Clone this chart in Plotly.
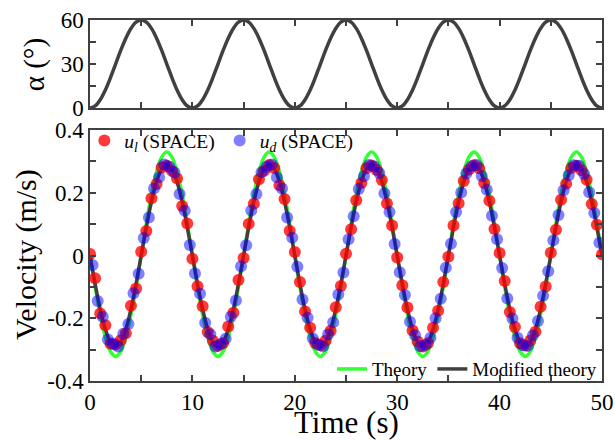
import plotly.graph_objects as go

# time grids (s)
t_line = [i * 0.5 for i in range(101)]
t_red = [i * 0.5 for i in range(101)]
t_blue = [0.25 + i * 0.5 for i in range(100)]

# alpha (deg)
alpha = [
    0, 1.47, 5.73, 12.36, 20.73, 30, 39.27, 47.64, 54.27, 58.53, 60, 58.53, 54.27, 47.64, 39.27, 30, 20.73, 12.36, 5.73, 1.47,
    0, 1.47, 5.73, 12.36, 20.73, 30, 39.27, 47.64, 54.27, 58.53, 60, 58.53, 54.27, 47.64, 39.27, 30, 20.73, 12.36, 5.73, 1.47,
    0, 1.47, 5.73, 12.36, 20.73, 30, 39.27, 47.64, 54.27, 58.53, 60, 58.53, 54.27, 47.64, 39.27, 30, 20.73, 12.36, 5.73, 1.47,
    0, 1.47, 5.73, 12.36, 20.73, 30, 39.27, 47.64, 54.27, 58.53, 60, 58.53, 54.27, 47.64, 39.27, 30, 20.73, 12.36, 5.73, 1.47,
    0, 1.47, 5.73, 12.36, 20.73, 30, 39.27, 47.64, 54.27, 58.53, 60, 58.53, 54.27, 47.64, 39.27, 30, 20.73, 12.36, 5.73, 1.47,
    0,
]

theory = [
    0, -0.100, -0.189, -0.260, -0.306, -0.322, -0.306, -0.260, -0.189, -0.100, 0, 0.102, 0.194, 0.267, 0.314, 0.330, 0.314, 0.267, 0.194, 0.102,
    0, -0.100, -0.189, -0.260, -0.306, -0.322, -0.306, -0.260, -0.189, -0.100, 0, 0.102, 0.194, 0.267, 0.314, 0.330, 0.314, 0.267, 0.194, 0.102,
    0, -0.100, -0.189, -0.260, -0.306, -0.322, -0.306, -0.260, -0.189, -0.100, 0, 0.102, 0.194, 0.267, 0.314, 0.330, 0.314, 0.267, 0.194, 0.102,
    0, -0.100, -0.189, -0.260, -0.306, -0.322, -0.306, -0.260, -0.189, -0.100, 0, 0.102, 0.194, 0.267, 0.314, 0.330, 0.314, 0.267, 0.194, 0.102,
    0, -0.100, -0.189, -0.260, -0.306, -0.322, -0.306, -0.260, -0.189, -0.100, 0, 0.102, 0.194, 0.267, 0.314, 0.330, 0.314, 0.267, 0.194, 0.102,
    0,
]

modified = [
    0, -0.090, -0.171, -0.235, -0.276, -0.290, -0.276, -0.235, -0.171, -0.090, 0, 0.090, 0.171, 0.235, 0.276, 0.290, 0.276, 0.235, 0.171, 0.090,
    0, -0.090, -0.171, -0.235, -0.276, -0.290, -0.276, -0.235, -0.171, -0.090, 0, 0.090, 0.171, 0.235, 0.276, 0.290, 0.276, 0.235, 0.171, 0.090,
    0, -0.090, -0.171, -0.235, -0.276, -0.290, -0.276, -0.235, -0.171, -0.090, 0, 0.090, 0.171, 0.235, 0.276, 0.290, 0.276, 0.235, 0.171, 0.090,
    0, -0.090, -0.171, -0.235, -0.276, -0.290, -0.276, -0.235, -0.171, -0.090, 0, 0.090, 0.171, 0.235, 0.276, 0.290, 0.276, 0.235, 0.171, 0.090,
    0, -0.090, -0.171, -0.235, -0.276, -0.290, -0.276, -0.235, -0.171, -0.090, 0, 0.090, 0.171, 0.235, 0.276, 0.290, 0.276, 0.235, 0.171, 0.090,
    0,
]

u_l = [
    0.005, -0.072, -0.185, -0.222, -0.281, -0.284, -0.270, -0.248, -0.160, -0.105, 0.012, 0.078, 0.183, 0.228, 0.281, 0.286, 0.270, 0.246, 0.158, 0.102,
    -0.010, -0.098, -0.162, -0.244, -0.272, -0.288, -0.279, -0.226, -0.182, -0.078, -0.008, 0.101, 0.165, 0.243, 0.270, 0.289, 0.279, 0.224, 0.180, 0.079,
    0.011, -0.084, -0.178, -0.230, -0.279, -0.286, -0.272, -0.240, -0.165, -0.097, 0.006, 0.084, 0.176, 0.231, 0.278, 0.287, 0.273, 0.241, 0.166, 0.096,
    -0.006, -0.095, -0.166, -0.239, -0.274, -0.290, -0.280, -0.230, -0.176, -0.084, -0.004, 0.096, 0.167, 0.238, 0.274, 0.288, 0.278, 0.231, 0.175, 0.085,
    0.008, -0.081, -0.180, -0.228, -0.280, -0.287, -0.271, -0.243, -0.163, -0.099, 0.009, 0.082, 0.178, 0.229, 0.279, 0.286, 0.272, 0.242, 0.164, 0.098,
    0.004,
]

u_d = [
    -0.030, -0.145, -0.195, -0.268, -0.281, -0.290, -0.249, -0.218, -0.120, -0.058, 0.056, 0.121, 0.214, 0.250, 0.290, 0.283, 0.265, 0.196, 0.143, 0.034,
    -0.057, -0.122, -0.214, -0.251, -0.290, -0.283, -0.265, -0.195, -0.143, -0.034, 0.033, 0.144, 0.196, 0.266, 0.283, 0.290, 0.250, 0.214, 0.121, 0.057,
    -0.036, -0.140, -0.198, -0.264, -0.284, -0.289, -0.252, -0.213, -0.124, -0.054, 0.052, 0.125, 0.212, 0.253, 0.289, 0.284, 0.263, 0.199, 0.139, 0.037,
    -0.053, -0.126, -0.211, -0.254, -0.289, -0.285, -0.262, -0.200, -0.138, -0.039, 0.038, 0.139, 0.201, 0.262, 0.285, 0.289, 0.254, 0.210, 0.127, 0.052,
    -0.040, -0.137, -0.201, -0.262, -0.286, -0.288, -0.255, -0.209, -0.128, -0.050, 0.049, 0.129, 0.208, 0.256, 0.288, 0.286, 0.260, 0.202, 0.136, 0.041,
]

x_ticks = [0, 10, 20, 30, 40, 50]
alpha_ticks = [0, 30, 60]
vel_ticks = [-0.4, -0.2, 0, 0.2, 0.4]
vel_ticklabels = ["-0.4", "-0.2", "0", "0.2", "0.4"]

FONT = "Liberation Serif"
AX = "#404040"

fig = go.Figure()

fig.add_trace(go.Scatter(x=t_line, y=alpha, mode="lines", line=dict(color="#404040", width=3.5, shape="spline"),
                         xaxis="x", yaxis="y", showlegend=False))

fig.add_trace(go.Scatter(x=t_line, y=theory, mode="lines", name="Theory",
                         line=dict(color="#33ff33", width=3.5, shape="spline"),
                         xaxis="x2", yaxis="y2", legend="legend2"))
fig.add_trace(go.Scatter(x=t_line, y=modified, mode="lines", name="Modified theory",
                         line=dict(color="#404040", width=3.5, shape="spline"),
                         xaxis="x2", yaxis="y2", legend="legend2"))
fig.add_trace(go.Scatter(x=t_red, y=u_l, mode="markers", name="<i>u<sub>l</sub></i> (SPACE)",
                         marker=dict(color="rgba(255,0,0,0.78)", size=12, line=dict(width=0)),
                         xaxis="x2", yaxis="y2", legend="legend"))
fig.add_trace(go.Scatter(x=t_blue, y=u_d, mode="markers", name="<i>u<sub>d</sub></i> (SPACE)",
                         marker=dict(color="rgba(0,0,255,0.5)", size=12, line=dict(width=0)),
                         xaxis="x2", yaxis="y2", legend="legend"))

axis_common = dict(showline=True, linecolor=AX, linewidth=1.5, mirror="ticks", ticks="inside",
                   tickcolor=AX, ticklen=6, tickwidth=1.5, showgrid=False, zeroline=False,
                   automargin=False, tickfont=dict(family=FONT, size=23, color="black"))
minor_common = dict(ticks="inside", ticklen=6, tickcolor=AX, tickwidth=1.5)

fig.update_layout(
    width=615, height=440,
    margin=dict(l=90, r=13, t=20, b=59),
    paper_bgcolor="white", plot_bgcolor="white",
    font=dict(family=FONT, color="black"),
    xaxis=dict(domain=[0, 1], range=[0, 50], anchor="y", tickvals=x_ticks, showticklabels=False,
               minor=dict(dtick=5, **minor_common), **axis_common),
    yaxis=dict(domain=[0.756, 1.0], range=[0, 60], anchor="x", tickvals=alpha_ticks,
               minor=dict(dtick=15, **minor_common), **axis_common),
    xaxis2=dict(domain=[0, 1], range=[0, 50], anchor="y2", tickvals=x_ticks,
                minor=dict(dtick=5, **minor_common), **axis_common),
    yaxis2=dict(domain=[0, 0.695], range=[-0.4, 0.4], anchor="x2", tickvals=vel_ticks, ticktext=vel_ticklabels,
                minor=dict(dtick=0.1, **minor_common), **axis_common),
    legend=dict(x=-0.011, y=0.665, xref="paper", yref="paper", xanchor="left", yanchor="middle",
                orientation="h", bgcolor="rgba(0,0,0,0)", font=dict(family=FONT, size=19.5),
                traceorder="normal"),
    legend2=dict(x=1.0, y=0.033, xref="paper", yref="paper", xanchor="right", yanchor="middle",
                 orientation="h", bgcolor="rgba(0,0,0,0)", font=dict(family=FONT, size=19),
                 traceorder="normal"),
    annotations=[
        dict(text="α (°)", x=-0.109, y=0.875, xref="paper", yref="paper", textangle=-90,
             xanchor="center", yanchor="middle",
             showarrow=False, font=dict(family=FONT, size=29, color="black")),
        dict(text="Velocity (m/s)", x=-0.125, y=0.349, xref="paper", yref="paper", textangle=-90,
             xanchor="center", yanchor="middle",
             showarrow=False, font=dict(family=FONT, size=30, color="black")),
        dict(text="Time (s)", x=0.5, y=-0.114, xref="paper", yref="paper",
             xanchor="center", yanchor="middle",
             showarrow=False, font=dict(family=FONT, size=31, color="black")),
    ],
)

fig.write_html("out.html", config={"displayModeBar": False},
               post_script="document.body.style.margin='0';document.body.style.overflow='hidden';")
